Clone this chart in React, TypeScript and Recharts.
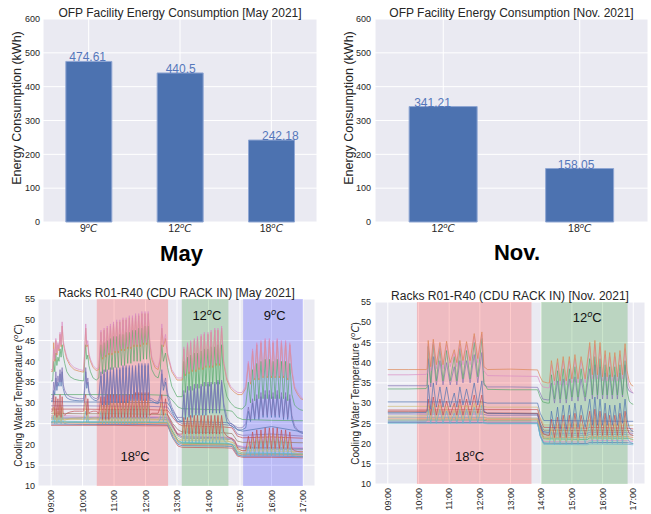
import React from 'react';
import {
  BarChart,
  Bar,
  LineChart,
  Line,
  XAxis,
  YAxis,
  CartesianGrid,
  ReferenceArea,
  ReferenceDot,
  LabelList,
} from 'recharts';

const INK = '#262626';
const PANEL = '#EAEAF2';
const FONT = '"Liberation Sans", Arial, sans-serif';
const MATH = '"DejaVu Sans", sans-serif';

// seaborn "deep"
const C = {
  blue: '#4C72B0',
  orange: '#DD8452',
  green: '#55A868',
  red: '#C44E52',
  purple: '#8172B3',
  brown: '#937860',
  pink: '#DA8BC3',
  gray: '#8C8C8C',
  olive: '#CCB974',
  cyan: '#64B5CD',
};

// ---- facility energy (bars) ----
const MAY_SETPOINTS = ['9', '12', '18'];
const MAY_KWH = [474.61, 440.5, 242.18];
const NOV_SETPOINTS = ['12', '18'];
const NOV_KWH = [341.21, 158.05];
const KWH_TICKS = [0, 100, 200, 300, 400, 500, 600];

// ---- rack inlet temperatures, time in minutes after 09:00 ----
const HOUR_TICKS = [0, 60, 120, 180, 240, 300, 360, 420, 480];
const TEMP_TICKS = [10, 15, 20, 25, 30, 35, 40, 45, 50, 55];

// set-point windows
const MAY_SPAN_FROM = [87, 249, 366];
const MAY_SPAN_TO = [223, 338, 480];
const MAY_SPAN_TEMP = ['18', '12', '9'];
const NOV_SPAN_FROM = [57, 300];
const NOV_SPAN_TO = [281, 469];
const NOV_SPAN_TEMP = ['18', '12'];

// May, racks with load cycling
const MAY_T = [
  0, 3, 5, 7, 9, 11, 13, 15, 17, 19, 21, 23, 26, 30, 36, 44, 54, 62,
  64, 66, 68, 70, 72, 75, 80, 86, 91,
  95, 98, 101, 104, 107, 110, 113, 116, 119, 122, 125, 128, 131, 134, 137, 140,
  143, 146, 149, 152, 155, 158, 161, 164, 167, 170, 173, 176, 179, 182, 185, 188,
  192, 198, 204, 208, 211, 214, 218, 222, 230, 240,
  250, 253, 256, 260, 263, 266, 269, 273, 276, 279, 282, 286, 289, 292, 295, 299,
  302, 305, 308, 312, 315, 318, 321, 325,
  329, 335, 342, 350, 356, 364,
  371, 376, 380, 384, 388, 392, 396, 400, 404, 408, 412, 416, 420, 423, 427, 431,
  435, 439, 443, 447, 451, 455,
  459, 464, 470, 476, 480,
];
const MAY_PINK = [
  38, 38, 43, 40.5, 45.5, 42, 44.5, 43, 47, 44, 49.5, 45, 43, 41, 39.5, 38.5, 38, 37.8,
  43, 49, 44, 45, 42, 40.5, 39, 38.2, 38.5,
  47.5, 41, 48, 41.5, 48.5, 42, 49, 42, 49.5, 42.5, 50, 42.5, 50, 43, 50.5, 43,
  50.5, 43.5, 51, 43.5, 51, 44, 51.5, 44, 51.5, 44, 52, 44.5, 52, 44.5, 52, 45,
  41, 39, 38.5, 41, 49, 44, 46.5, 42, 38, 36,
  36, 43.5, 37, 44.5, 37.5, 45, 38, 45.5, 38, 46, 38.5, 46.5, 38.5, 47, 39, 47,
  39, 47.5, 39, 48, 39.5, 48, 39.5, 48.5,
  40, 36, 34, 33, 32.5, 32.5,
  34, 40, 35, 43, 36, 44.5, 36, 45, 36.5, 45.5, 36.5, 45.5, 36.5, 45, 36.5, 45.5,
  36.5, 45, 36.5, 45, 36, 44.5,
  38, 34, 32.5, 31.5, 31,
];
const MAY_ORANGE = [
  37.6, 37.6, 44.5, 40, 45, 41.5, 44, 42.5, 46.5, 43.5, 48.5, 44.5, 42.5, 40.5, 39, 38, 37.6, 37.4,
  42, 48, 43.5, 44, 41.5, 40, 38.5, 37.8, 38,
  47, 40.5, 47.5, 41, 48, 41.5, 48.5, 41.5, 49, 42, 49.5, 42, 49.5, 42.5, 50, 42.5,
  50, 43, 50.5, 43, 50.5, 43.5, 51, 43.5, 51, 43.5, 51.5, 44, 51.5, 44, 51.5, 44.5,
  40.5, 38.5, 38, 40.5, 48, 43.5, 45.5, 41.5, 37.5, 35.5,
  35.5, 43, 36.5, 44, 37, 44.5, 37.5, 45, 37.5, 45.5, 38, 46, 38, 46.5, 38.5, 46.5,
  38.5, 47, 38.5, 47.5, 39, 47.5, 39, 48,
  39.5, 35.5, 33.5, 32.5, 32, 32,
  33.5, 39.5, 34.5, 42.5, 35.5, 44, 35.5, 44.5, 36, 45, 36, 45, 36, 44.5, 36, 45,
  36, 44.5, 36, 44.5, 35.5, 44,
  37.5, 33.5, 32, 31, 30.8,
];
const MAY_GREEN = [
  35.3, 35.3, 40, 37.5, 42, 39, 41, 40, 43, 41, 44, 41.5, 39.5, 37.5, 36.3, 35.7, 35.4, 35.3,
  40, 44, 40.5, 41.5, 39, 37.5, 36, 35.5, 36,
  44, 37, 44.5, 37.5, 45, 38, 45.5, 38, 46, 38.5, 46, 38.5, 46.5, 39, 46.5, 39,
  47, 39.5, 47, 39.5, 47.5, 40, 47.5, 40, 48, 40, 48, 40.5, 48.5, 40.5, 48.5, 41,
  38, 36.5, 36, 38, 44, 40, 42, 38.5, 34, 31.5,
  31.5, 40, 32.5, 41, 33, 41.5, 33, 42, 33.5, 42, 33.5, 42.5, 34, 43, 34, 43,
  34, 43.5, 34.5, 43.5, 34.5, 44, 34.5, 44,
  35, 31.5, 30, 29, 28.7, 28.5,
  29.5, 35, 30, 38, 30.5, 39.5, 31, 40, 31, 40.5, 31, 40.5, 31, 40, 31, 40.5,
  31, 40, 31, 40, 30.5, 39.5,
  32, 29.5, 28.7, 28.3, 28.2,
];
const MAY_PURPLE = [
  31, 31, 35, 33, 37.5, 34, 36.5, 35, 38, 35, 38.5, 34.5, 33, 32, 31.5, 31.2, 31, 31,
  34, 38.5, 34.5, 36, 33, 32, 31.3, 31, 31.5,
  37.5, 30, 38, 30, 38, 30, 38.5, 30.5, 38.5, 30.5, 38.5, 30.5, 38.5, 30.5, 39, 30.5,
  39, 30.5, 39, 31, 39, 31, 39, 31, 39.5, 31, 39.5, 31, 39.5, 31, 39.5, 31,
  31, 30.5, 30.3, 32, 38, 34, 36, 32.5, 29, 26.5,
  26.5, 33, 27, 34, 27, 34, 27.5, 34.5, 27.5, 34.5, 27.5, 34.5, 27.5, 35, 28, 35,
  28, 35, 28, 35, 28, 35.5, 28, 35.5,
  30, 26.5, 25, 24.5, 24, 24,
  25, 29, 26, 31, 26.5, 32, 26.5, 32.5, 27, 33, 27, 33, 27, 32.5, 27, 33,
  27, 32.5, 26.5, 32.5, 26.5, 32,
  27, 24.5, 23.5, 23, 22.8,
];
const MAY_BLUE = [
  30.5, 30.5, 33, 32, 36, 33, 35, 34, 37, 34, 37.5, 33.5, 32, 31.2, 30.8, 30.6, 30.5, 30.5,
  33, 37.5, 33.5, 35, 32.5, 31.5, 30.8, 30.5, 31,
  36.5, 29.5, 37, 29.5, 37.5, 29.5, 37.5, 30, 38, 30, 38, 30, 38, 30, 38.5, 30,
  38.5, 30, 38.5, 30.5, 38.5, 30.5, 38.5, 30.5, 39, 30.5, 39, 30.5, 39, 30.5, 39, 30.5,
  30.5, 30, 29.8, 31, 37, 33, 35, 31.5, 28, 25.5,
  25.5, 32, 26, 33, 26.5, 33, 26.5, 33.5, 27, 33.5, 27, 34, 27, 34, 27, 34.5,
  27.5, 34.5, 27.5, 34.5, 27.5, 35, 27.5, 35,
  29, 25.5, 24.5, 24, 23.5, 23.5,
  24, 28, 25.5, 30, 26, 31, 26, 31.5, 26.5, 32, 26.5, 32, 26.5, 31.5, 26.5, 32,
  26.5, 31.5, 26, 31.5, 26, 31,
  26, 24, 23.2, 22.8, 22.6,
];
const MAY_RED = [
  28, 28, 32, 27, 31.5, 26.5, 31, 27, 32, 26.5, 31.5, 27.5, 27, 27.5, 27.8, 28, 28, 28,
  31, 32, 27, 31, 27.5, 27.8, 28, 28, 27.5,
  31.5, 26, 31.5, 26, 32, 26, 32, 26.5, 32, 26.5, 32, 26.5, 32, 26.5, 32, 26.5,
  32, 26.5, 32, 26.5, 32, 26.5, 32.5, 26.5, 32.5, 26.5, 32.5, 26.5, 32.5, 26.5, 32.5, 27,
  27.5, 27.5, 27.5, 29, 32, 27, 31, 27, 25, 22.5,
  22.5, 26.5, 22.5, 26.5, 22.5, 27, 22.5, 27, 22.5, 27, 22.5, 27, 22.5, 27, 22.5, 27,
  22.5, 27, 22.5, 27, 22.5, 27, 22.5, 27,
  23, 22, 21.5, 21, 19, 18.5,
  18.5, 22, 19, 23, 19, 23.5, 19, 23.5, 19, 24, 19, 24, 19, 24, 19, 24,
  19, 23.5, 19, 23.5, 19, 23,
  19, 18.5, 18.3, 18.2, 18.2,
];
const MAY_OLIVE = [
  26.5, 26.5, 29, 26, 28.5, 25.5, 28, 26, 29.5, 25.5, 29, 26, 25.8, 26, 26.2, 26.3, 26.4, 26.5,
  28.5, 30, 26, 28.5, 26, 26.2, 26.4, 26.5, 26,
  29.5, 25.5, 29.5, 25.5, 30, 25.5, 30, 25.5, 30, 25.5, 30, 25.5, 30, 25.5, 30, 25.5,
  30.5, 25.5, 30.5, 25.5, 30.5, 25.5, 30.5, 25.5, 30.5, 25.5, 30.5, 25.5, 30.5, 25.5, 30.5, 26,
  26, 26, 26, 27, 30, 26, 28.5, 25.5, 23, 21,
  21, 25, 21, 25.5, 21, 25.5, 21, 26, 21, 26, 21, 26, 21, 26, 21, 26,
  21, 26, 21, 26, 21, 26.5, 21, 26.5,
  22, 21, 20.5, 20.3, 18.5, 18,
  18, 20.5, 18.3, 21.5, 18.3, 22, 18.3, 22.5, 18.3, 22.5, 18.3, 22.5, 18.3, 22.5, 18.3, 22.5,
  18.3, 22, 18.3, 22, 18.3, 21.5,
  18.2, 18, 17.8, 17.7, 17.7,
];
const MAY_CYAN = [
  25.3, 25.3, 27, 25, 27.5, 25, 27, 25.2, 28, 25, 27.5, 25.3, 25, 25.2, 25.3, 25.3, 25.3, 25.3,
  27, 28, 25.2, 27, 25.2, 25.3, 25.3, 25.3, 25.2,
  28, 25, 28, 25, 28.5, 25, 28.5, 25, 28.5, 25, 28.5, 25, 28.5, 25, 29, 25,
  29, 25, 29, 25, 29, 25, 29, 25, 29, 25.2, 29, 25.2, 29, 25.2, 29, 25.2,
  25.3, 25.3, 25.3, 26, 28.5, 25.5, 27.5, 25, 22, 20.3,
  20.3, 23.5, 20.3, 24, 20.3, 24, 20.3, 24.5, 20.3, 24.5, 20.3, 24.5, 20.3, 24.5, 20.3, 24.5,
  20.3, 25, 20.3, 25, 20.3, 25, 20.3, 25,
  21, 20.3, 20, 19.8, 17.5, 17.2,
  17.2, 19.5, 17.3, 20.5, 17.3, 21, 17.3, 21, 17.3, 21.5, 17.3, 21.5, 17.3, 21.5, 17.3, 21.5,
  17.3, 21, 17.3, 21, 17.3, 20.5,
  17.3, 17.2, 17, 17, 17,
];

// May, steady racks
const MAY_FLAT_T = [0, 60, 120, 180, 222, 232, 242, 250, 330, 345, 355, 365, 420, 480];
const MAY_STEADY = [
  { color: C.green, v: [32, 32, 32, 32, 31.8, 30.5, 29, 28.6, 28.3, 28, 26.5, 26, 25.8, 25.7] },
  { color: C.blue, v: [30.3, 30.2, 30.2, 30.1, 30, 28, 26, 25.5, 25.3, 25, 23.5, 23.2, 24.3, 23] },
  { color: C.purple, v: [29.3, 29.3, 29.2, 29.2, 29, 27, 25.5, 25, 24.8, 24.5, 22.5, 22.2, 22.5, 22] },
  { color: C.red, v: [28.5, 28.5, 28.4, 28.4, 28.2, 26.5, 25, 24.5, 24.2, 24, 22, 21.6, 21.8, 21.5] },
  { color: C.brown, v: [27.5, 27.4, 27.4, 27.3, 27.2, 25, 23.5, 23, 22.8, 22.6, 20.8, 20.5, 20.6, 20.4] },
  { color: C.pink, v: [27, 26.8, 26.8, 26.8, 26.6, 24.5, 22.5, 22, 21.8, 21.6, 19.8, 19.5, 19.3, 19.2] },
  { color: C.purple, v: [26.6, 26.5, 26.5, 26.5, 26.4, 24.2, 22.3, 21.8, 21.6, 21.4, 19.6, 19.3, 19.2, 19] },
  { color: C.gray, v: [26.3, 26.2, 26.2, 26.2, 26, 24, 22, 21.5, 21.3, 21.1, 19.3, 19, 18.9, 18.8] },
  { color: C.olive, v: [26, 26, 25.9, 25.9, 25.8, 23.5, 21.5, 21, 20.8, 20.6, 18.8, 18.5, 18.4, 18.3] },
  { color: C.cyan, v: [25.6, 25.5, 25.5, 25.5, 25.4, 23, 21, 20.5, 20.3, 20.1, 18.3, 18, 17.9, 17.8] },
  { color: C.green, v: [25.4, 25.3, 25.3, 25.3, 25.2, 23, 20.8, 20.3, 20.1, 20, 18, 17.7, 17.7, 17.6] },
  { color: C.orange, v: [25.2, 25.1, 25.1, 25, 25, 22.5, 20.5, 20, 19.9, 19.8, 17.8, 17.5, 17.5, 17.4] },
  { color: C.blue, v: [24.9, 24.8, 24.8, 24.8, 24.7, 22, 20, 19.7, 19.6, 19.5, 17.5, 17.2, 17.2, 17.1] },
  { color: C.red, v: [24.6, 24.6, 24.6, 24.5, 24.5, 21.5, 19.6, 19.3, 19.2, 19.1, 17.2, 16.9, 16.9, 16.8] },
];
const MAY_CYCLING = [
  { color: C.cyan, v: MAY_CYAN },
  { color: C.olive, v: MAY_OLIVE },
  { color: C.red, v: MAY_RED },
  { color: C.blue, v: MAY_BLUE },
  { color: C.purple, v: MAY_PURPLE },
  { color: C.green, v: MAY_GREEN },
  { color: C.orange, v: MAY_ORANGE },
  { color: C.pink, v: MAY_PINK },
];

// Nov., racks with load cycling
const NOV_T = [
  0, 40, 75,
  77, 79, 84, 89, 95, 102, 108, 115, 122, 130, 135, 141, 147, 154, 161, 169, 176, 184,
  188, 195, 240, 293,
  298, 303, 312,
  316, 320, 326, 332, 337, 343, 349, 355, 360, 366, 372, 378, 386, 395,
  400, 405, 410, 415, 420, 425, 429, 434, 439, 444, 449, 454, 459, 464,
  468, 472, 476, 480,
];
const NOV_ORANGE = [
  38.3, 38.3, 38.3,
  38.5, 45.5, 39, 45.8, 39.5, 45, 39.5, 45.3, 40, 43.2, 40, 45.5, 40.5, 45.2, 40.5, 47.2, 41, 47.6,
  39, 38.3, 38.4, 38.2,
  36.5, 35.3, 35,
  35, 40.5, 35.5, 41, 35.5, 41.5, 35.5, 41.5, 36, 42, 36, 41.5, 36, 45,
  37, 45.5, 37, 45, 36.5, 43, 36.5, 42.5, 36.5, 42.5, 36.5, 43, 37, 44.7,
  38, 35.5, 34.5, 34.2,
];
const NOV_PINK = [
  37, 37, 37.1,
  37.3, 44.5, 38, 45, 38.5, 44, 38.5, 44.5, 39, 42.5, 39, 44.5, 39.5, 44.5, 39.5, 46.5, 40, 47,
  38, 36.8, 36.7, 36.6,
  35, 34, 33.8,
  33.8, 39.5, 34.5, 40, 34.5, 40.5, 34.5, 40.5, 35, 41, 35, 40.5, 35, 44,
  36, 44.5, 36, 44, 35.5, 42, 35.5, 41.5, 35.5, 41.5, 35.5, 42, 36, 43.5,
  36.5, 34, 33, 32.5,
];
const NOV_GREEN = [
  33.5, 33.5, 33.6,
  34, 44, 35, 44.5, 35.5, 43.5, 35.5, 43, 35.5, 41.5, 35.5, 43.5, 36, 43, 36, 45, 36.5, 46,
  35, 33.4, 33.3, 33.3,
  31.5, 30.3, 30,
  30, 37, 31, 38, 31, 38.5, 31, 38.5, 31.5, 39, 31.5, 38.5, 31.5, 41,
  32, 41.5, 32, 41, 32, 39.5, 32, 39, 32, 39, 32, 39.5, 32, 40.5,
  33, 30.5, 29.9, 29.7,
];
const NOV_PURPLE = [
  34.3, 34.3, 34.3,
  34.5, 41, 34, 41.5, 34.5, 40.5, 34.5, 40, 34.5, 39, 34.5, 40.5, 35, 40.5, 35, 42, 35, 42.5,
  34.5, 34, 34, 33.9,
  32.5, 31, 30.8,
  30.8, 35, 30, 35.5, 30, 36, 30, 36, 30.5, 36.5, 30.5, 36, 30.5, 38.5,
  31, 39.5, 31, 39, 31, 37.5, 31, 37, 31, 37, 31, 37.5, 31.5, 39.5,
  34, 33, 32.7, 32.5,
];
const NOV_BLUE = [
  27.6, 27.6, 27.7,
  28, 34.5, 28.5, 35, 29, 34, 29, 34, 29, 32.5, 29, 34, 29.5, 33.5, 29.5, 35, 29.5, 35.5,
  28, 27.5, 27.4, 27.3,
  25, 23, 22.8,
  22.8, 28, 23.5, 29, 23.5, 29.5, 23.5, 29.5, 24, 30, 24, 29.5, 24, 31,
  24.5, 31.5, 24.5, 31, 24.5, 30, 24.5, 29.5, 24.5, 29.5, 24.5, 30, 25, 31,
  26, 24, 23.3, 23,
];
const NOV_RED = [
  28, 28, 28,
  28.2, 31, 27, 31.5, 27, 31, 27, 30.5, 27, 30, 27, 31, 27, 31, 27, 32, 27.5, 32,
  27.8, 27.5, 27.5, 27.4,
  24.5, 22.5, 22,
  22, 26, 21.5, 26.5, 21.5, 27, 21.5, 27, 21.5, 27.5, 21.5, 27, 22, 28,
  22, 28.5, 22, 28, 22, 27.5, 22, 27, 22, 27, 22, 27.5, 22, 28,
  24, 22.5, 22.2, 22,
];
const NOV_OLIVE = [
  26.8, 26.8, 26.9,
  27, 29.5, 26, 30, 26, 29.5, 26, 29, 26, 28.5, 26, 29.5, 26, 29.5, 26, 30, 26.5, 30.5,
  26.5, 26.2, 26.2, 26.1,
  23.5, 21.5, 21,
  21, 24, 20.5, 24.5, 20.5, 25, 20.5, 25, 20.5, 25, 20.5, 25, 21, 26,
  21, 26.5, 21, 26, 21, 25.5, 21, 25, 21, 25, 21, 25.5, 21, 26,
  22.5, 21.3, 21, 20.8,
];
const NOV_CYAN = [
  25.5, 25.5, 25.5,
  25.7, 28.5, 25, 29, 25, 28.5, 25, 28, 25, 27.5, 25, 28.5, 25, 28.5, 25, 29, 25.2, 29.5,
  25.2, 25, 25, 25,
  22, 20.3, 20,
  20, 23, 19.8, 23.5, 19.8, 24, 19.8, 24, 19.8, 24, 19.8, 24, 20, 25,
  20, 25.5, 20, 25, 20, 24.5, 20, 24, 20, 24, 20, 24.5, 20, 25,
  21.5, 20.5, 20.2, 20,
];

// Nov., steady racks
const NOV_FLAT_T = [0, 75, 185, 195, 293, 298, 305, 390, 395, 470, 480];
const NOV_STEADY = [
  { color: C.blue, v: [30.3, 30.3, 30.3, 30, 30, 27.5, 25.7, 25.6, 25.6, 25.5, 25.5] },
  { color: C.olive, v: [29.2, 29.2, 29.2, 29, 29, 26.5, 24.6, 24.5, 24.6, 24.5, 24.5] },
  { color: C.red, v: [28.3, 28.3, 28.4, 28.4, 28.4, 26, 24, 23.8, 24, 23.8, 23.6] },
  { color: C.brown, v: [27.8, 27.8, 27.8, 27.5, 27.5, 25, 23.3, 23.2, 23.3, 23.2, 23] },
  { color: C.purple, v: [27.3, 27.3, 27.3, 27, 27, 24.5, 22.6, 22.5, 22.8, 22.7, 22.5] },
  { color: C.gray, v: [26.5, 26.5, 26.5, 26.3, 26.3, 24, 22.2, 22, 22.3, 22.2, 22] },
  { color: C.orange, v: [26.1, 26.1, 26.1, 25.9, 25.9, 23.5, 21.6, 21.5, 21.8, 21.7, 21.5] },
  { color: C.green, v: [25.8, 25.8, 25.8, 25.6, 25.6, 23, 21.2, 21, 21.4, 21.3, 21] },
  { color: C.pink, v: [25.5, 25.5, 25.5, 25.3, 25.3, 22.5, 20.5, 20.4, 20.8, 20.7, 20.5] },
  { color: C.blue, v: [25.2, 25.2, 25.2, 25.1, 25.1, 22, 20.1, 20, 20.3, 20.2, 20] },
  { color: C.cyan, v: [25, 25, 25, 24.9, 24.9, 21.8, 19.8, 19.7, 19.9, 19.8, 19.7] },
];
const NOV_CYCLING = [
  { color: C.cyan, v: NOV_CYAN },
  { color: C.olive, v: NOV_OLIVE },
  { color: C.red, v: NOV_RED },
  { color: C.blue, v: NOV_BLUE },
  { color: C.purple, v: NOV_PURPLE },
  { color: C.green, v: NOV_GREEN },
  { color: C.pink, v: NOV_PINK },
  { color: C.orange, v: NOV_ORANGE },
];

const SPAN_FILL: Record<string, string> = { '18': '#ff0000', '12': '#008000', '9': '#0000ff' };

const toPoints = (times: number[], values: number[]) =>
  times.slice(0, values.length).map((t, i) => ({ t, v: values[i] }));

const hourLabel = (m: number) => `${String(9 + m / 60).padStart(2, '0')}:00`;

const DegreeTick = (props: any) => {
  const { x, y, payload } = props;
  return (
    <text x={x} y={y} dy="0.71em" textAnchor="middle" fill={INK} fontSize={10.5}>
      <tspan>{payload.value}</tspan>
      <tspan dy={-4} fontSize={7} fontStyle="italic" fontFamily={MATH}>o</tspan>
      <tspan dy={4} fontStyle="italic" fontFamily={MATH}>C</tspan>
    </text>
  );
};

const HourTick = (props: any) => {
  const { x, y, payload } = props;
  return (
    <text
      x={x}
      y={y}
      dy="0.35em"
      textAnchor="end"
      transform={`rotate(-90 ${x} ${y})`}
      fill={INK}
      fontSize={9}
    >
      {hourLabel(payload.value)}
    </text>
  );
};

const spanLabel = (temp: string) => (p: any) => (
  <text x={p.cx} y={p.cy} textAnchor="middle" fill="#111" fontSize={13}>
    {temp}
    <tspan dy={-5} fontSize={8.5} fontStyle="italic" fontFamily={MATH}>o</tspan>
    <tspan dy={5}>C</tspan>
  </text>
);

type BarsProps = {
  temps: string[];
  kwh: number[];
  width: number;
  yAxisWidth: number;
  right: number;
  tickGap: number;
  labelDx: number[];
};

const EnergyBars = ({ temps, kwh, width, yAxisWidth, right, tickGap, labelDx }: BarsProps) => {
  const data = temps.map((temp, i) => ({ temp, kwh: kwh[i] }));
  return (
    <BarChart
      width={width}
      height={240}
      data={data}
      margin={{ top: 19, right, bottom: 0, left: 0 }}
      barCategoryGap="25%"
    >
      <CartesianGrid fill={PANEL} fillOpacity={1} stroke="#fff" strokeWidth={1} />
      <XAxis
        dataKey="temp"
        height={18}
        axisLine={false}
        tickLine={false}
        tickSize={0}
        tickMargin={3}
        interval={0}
        tick={<DegreeTick />}
      />
      <YAxis
        domain={[0, 600]}
        ticks={KWH_TICKS}
        width={yAxisWidth}
        axisLine={false}
        tickLine={false}
        tickSize={0}
        tickMargin={tickGap}
        tick={{ fontSize: 9, fill: INK }}
      />
      <Bar dataKey="kwh" fill={C.blue} stroke="#8fa6d3" strokeWidth={1} isAnimationActive={false}>
        <LabelList
          dataKey="kwh"
          content={(p: any) => (
            <text x={p.x + p.width / 2 + labelDx[p.index]} y={p.y} fill="#5577bb" fontSize={12}>
              {p.value}
            </text>
          )}
        />
      </Bar>
    </BarChart>
  );
};

type Series = { color: string; v: number[] };

type TempsProps = {
  width: number;
  top: number;
  right: number;
  yAxisWidth: number;
  xAxisHeight: number;
  tickGap: number;
  steadyT: number[];
  steady: Series[];
  cyclingT: number[];
  cycling: Series[];
  spanFrom: number[];
  spanTo: number[];
  spanTemp: string[];
  labelAt: [number, number][];
};

const RackTemps = (p: TempsProps) => (
  <LineChart width={p.width} height={234} margin={{ top: p.top, right: p.right, bottom: 0, left: 0 }}>
    <CartesianGrid fill={PANEL} fillOpacity={1} stroke="#fff" strokeWidth={1} />
    <XAxis
      type="number"
      dataKey="t"
      domain={[-25, 503]}
      ticks={HOUR_TICKS}
      height={p.xAxisHeight}
      axisLine={false}
      tickLine={false}
      tickSize={0}
      tickMargin={4}
      interval={0}
      allowDataOverflow
      tick={<HourTick />}
    />
    <YAxis
      type="number"
      domain={[10, 55]}
      ticks={TEMP_TICKS}
      width={p.yAxisWidth}
      axisLine={false}
      tickLine={false}
      tickSize={0}
      tickMargin={p.tickGap}
      allowDataOverflow
      tick={{ fontSize: 9, fill: INK }}
    />
    {p.spanFrom.map((from, i) => (
      <ReferenceArea
        key={`span-${i}`}
        x1={from}
        x2={p.spanTo[i]}
        fill={SPAN_FILL[p.spanTemp[i]]}
        fillOpacity={0.2}
        stroke="none"
      />
    ))}
    {p.steady.map((s, i) => (
      <Line
        key={`steady-${i}`}
        data={toPoints(p.steadyT, s.v)}
        dataKey="v"
        type="linear"
        stroke={s.color}
        strokeWidth={0.9}
        strokeOpacity={0.75}
        dot={false}
        activeDot={false}
        isAnimationActive={false}
      />
    ))}
    {p.cycling.map((s, i) => (
      <Line
        key={`cyc-${i}`}
        data={toPoints(p.cyclingT, s.v)}
        dataKey="v"
        type="linear"
        stroke={s.color}
        strokeWidth={0.9}
        strokeOpacity={0.75}
        dot={false}
        activeDot={false}
        isAnimationActive={false}
      />
    ))}
    {p.spanTemp.map((temp, i) => (
      <ReferenceDot
        key={`lbl-${i}`}
        x={p.labelAt[i][0]}
        y={p.labelAt[i][1]}
        r={0}
        shape={spanLabel(temp)}
      />
    ))}
  </LineChart>
);

const box = (left: number, top: number): React.CSSProperties => ({ position: 'absolute', left, top });

const TempAxisName = ({ x, y }: { x: number; y: number }) => (
  <text x={x} y={y} dy="0.35em" transform={`rotate(-90 ${x} ${y})`}>
    Cooling Water Temperature (
    <tspan dy={-3.5} fontSize={7} fontStyle="italic" fontFamily={MATH}>o</tspan>
    <tspan dy={3.5} fontStyle="italic" fontFamily={MATH}>C</tspan>)
  </text>
);

export default function App() {
  return (
    <div
      style={{
        position: 'absolute',
        left: 0,
        top: 0,
        width: 651,
        height: 514,
        background: '#fff',
        fontFamily: FONT,
        overflow: 'hidden',
      }}
    >
      <div style={box(0, 0)}>
        <EnergyBars
          temps={MAY_SETPOINTS}
          kwh={MAY_KWH}
          width={330}
          yAxisWidth={43}
          right={13}
          tickGap={3}
          labelDx={[-19.5, -14.5, -9.5]}
        />
      </div>
      <div style={box(320, 0)}>
        <EnergyBars
          temps={NOV_SETPOINTS}
          kwh={NOV_KWH}
          width={331}
          yAxisWidth={55}
          right={3}
          tickGap={4}
          labelDx={[-29, -22]}
        />
      </div>
      <div style={box(0, 280)}>
        <RackTemps
          width={325}
          top={19}
          right={10}
          yAxisWidth={38}
          xAxisHeight={28}
          tickGap={3}
          steadyT={MAY_FLAT_T}
          steady={MAY_STEADY}
          cyclingT={MAY_T}
          cycling={MAY_CYCLING}
          spanFrom={MAY_SPAN_FROM}
          spanTo={MAY_SPAN_TO}
          spanTemp={MAY_SPAN_TEMP}
          labelAt={[[160, 15.9], [297, 50], [426, 50]]}
        />
      </div>
      <div style={box(320, 280)}>
        <RackTemps
          width={331}
          top={22}
          right={6}
          yAxisWidth={55}
          xAxisHeight={30}
          tickGap={4}
          steadyT={NOV_FLAT_T}
          steady={NOV_STEADY}
          cyclingT={NOV_T}
          cycling={NOV_CYCLING}
          spanFrom={NOV_SPAN_FROM}
          spanTo={NOV_SPAN_TO}
          spanTemp={NOV_SPAN_TEMP}
          labelAt={[[160, 15.6], [390, 50]]}
        />
      </div>

      {/* titles, axis names, month captions */}
      <svg width={651} height={514} style={{ position: 'absolute', left: 0, top: 0, pointerEvents: 'none' }}>
        <g fill={INK} fontSize={12} textAnchor="middle">
          <text x={180} y={17}>OFP Facility Energy Consumption [May 2021]</text>
          <text x={511.5} y={17}>OFP Facility Energy Consumption [Nov. 2021]</text>
          <text x={176.5} y={296.5}>Racks R01-R40 (CDU RACK IN) [May 2021]</text>
          <text x={510} y={300}>Racks R01-R40 (CDU RACK IN) [Nov. 2021]</text>
        </g>
        <g fill={INK} fontSize={12.5} textAnchor="middle">
          <text x={17} y={108} dy="0.35em" transform="rotate(-90 17 108)">Energy Consumption (kWh)</text>
          <text x={349} y={108} dy="0.35em" transform="rotate(-90 349 108)">Energy Consumption (kWh)</text>
        </g>
        <g fill={INK} fontSize={10} textAnchor="middle">
          <TempAxisName x={18} y={395.5} />
          <TempAxisName x={355} y={393.5} />
        </g>
        <g fill="#000" fontSize={22} fontWeight="bold" textAnchor="middle">
          <text x={181.5} y={261}>May</text>
          <text x={517} y={260}>Nov.</text>
        </g>
      </svg>
    </div>
  );
}
